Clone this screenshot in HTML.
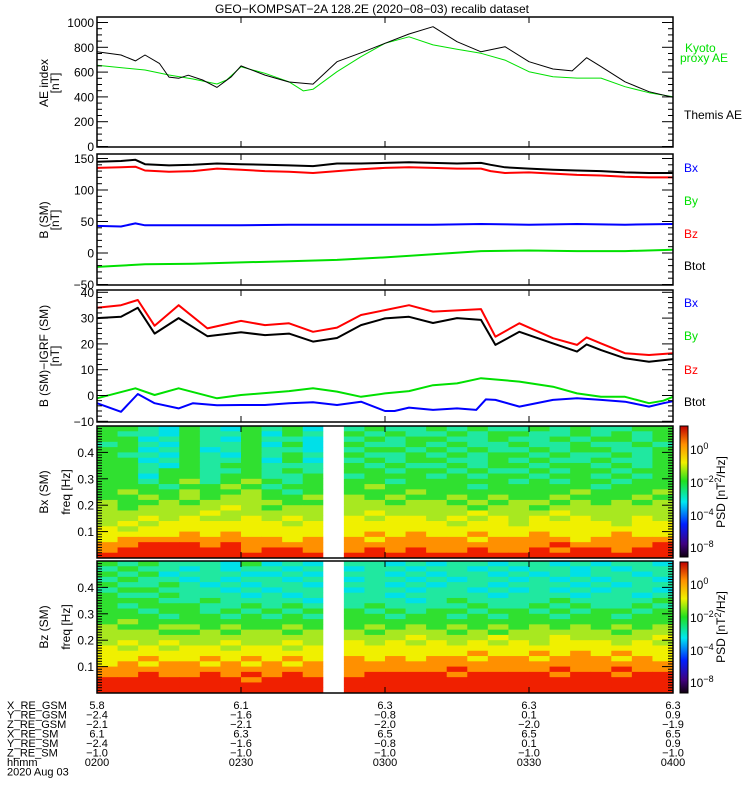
<!DOCTYPE html>
<html><head><meta charset="utf-8"><style>
body{margin:0;background:#fff;}
svg{display:block;font-family:"Liberation Sans",sans-serif;}
text{font-size:12px;fill:#000;}
#table text{font-size:11px;}
</style></head><body>
<svg id="chart" width="750" height="800" viewBox="0 0 750 800" xmlns="http://www.w3.org/2000/svg">
<defs>
<linearGradient id="cbg" x1="0" y1="1" x2="0" y2="0">
<stop offset="0" stop-color="#100010"/><stop offset="0.1" stop-color="#400080"/><stop offset="0.25" stop-color="#0020ff"/>
<stop offset="0.42" stop-color="#00e8f0"/><stop offset="0.58" stop-color="#20e020"/><stop offset="0.72" stop-color="#f0f000"/>
<stop offset="0.86" stop-color="#ff9000"/><stop offset="1" stop-color="#c00000"/>
</linearGradient>
</defs>
<text x="372" y="13" text-anchor="middle" font-size="13">GEO−KOMPSAT−2A 128.2E (2020−08−03) recalib dataset</text>
<g id="marks"></g>
<g id="axes"></g>
<g>
<text transform="translate(48,83) rotate(-90)" text-anchor="middle">AE index</text>
<text transform="translate(59,83) rotate(-90)" text-anchor="middle">[nT]</text>
<text transform="translate(48,220) rotate(-90)" text-anchor="middle">B (SM)</text>
<text transform="translate(59,220) rotate(-90)" text-anchor="middle">[nT]</text>
<text transform="translate(48,356) rotate(-90)" text-anchor="middle">B (SM)−IGRF (SM)</text>
<text transform="translate(59,356) rotate(-90)" text-anchor="middle">[nT]</text>
<text transform="translate(48,492) rotate(-90)" text-anchor="middle">Bx (SM)</text>
<text transform="translate(70,492) rotate(-90)" text-anchor="middle">freq [Hz]</text>
<text transform="translate(48,627) rotate(-90)" text-anchor="middle">Bz (SM)</text>
<text transform="translate(70,627) rotate(-90)" text-anchor="middle">freq [Hz]</text>
</g>
<g>
<text x="685" y="52" style="fill:#00e000">Kyoto</text>
<text x="680" y="62" style="fill:#00e000">proxy AE</text>
<text x="684" y="119">Themis AE</text>
<text x="684" y="172" style="fill:#0000ff">Bx</text>
<text x="684" y="205" style="fill:#00e000">By</text>
<text x="684" y="238" style="fill:#ff0000">Bz</text>
<text x="684" y="270">Btot</text>
<text x="684" y="307" style="fill:#0000ff">Bx</text>
<text x="684" y="340" style="fill:#00e000">By</text>
<text x="684" y="374" style="fill:#ff0000">Bz</text>
<text x="684" y="406">Btot</text>
</g>
<g>
<rect x="680" y="426" width="8" height="131" fill="url(#cbg)" stroke="#000"/>
<rect x="680" y="562" width="8" height="131" fill="url(#cbg)" stroke="#000"/>
<text x="690" y="454">10<tspan dy="-5" font-size="9">0</tspan></text>
<text x="690" y="487">10<tspan dy="-5" font-size="9">−2</tspan></text>
<text x="690" y="520">10<tspan dy="-5" font-size="9">−4</tspan></text>
<text x="690" y="552">10<tspan dy="-5" font-size="9">−8</tspan></text>
<text transform="translate(725,492) rotate(-90)" text-anchor="middle">PSD [nT<tspan dy="-4" font-size="9">2</tspan><tspan dy="4">/Hz]</tspan></text>
<text x="690" y="589">10<tspan dy="-5" font-size="9">0</tspan></text>
<text x="690" y="622">10<tspan dy="-5" font-size="9">−2</tspan></text>
<text x="690" y="655">10<tspan dy="-5" font-size="9">−4</tspan></text>
<text x="690" y="687">10<tspan dy="-5" font-size="9">−8</tspan></text>
<text transform="translate(725,627) rotate(-90)" text-anchor="middle">PSD [nT<tspan dy="-4" font-size="9">2</tspan><tspan dy="4">/Hz]</tspan></text>
</g>
<g id="table"></g>
</svg>
<script>
// ---------- data ----------
const aeThemisT = [0,5,8,10,13,15,17,19,22,25,28,30,35,40,45,50,55,60,65,70,75,80,85,90,95,99,102,105,110,115,120];
const aeThemisV = [764,738,690,738,670,560,550,575,536,477,563,650,576,520,503,684,756,832,907,966,845,764,805,684,625,610,716,644,522,442,397];
const aeKyotoT = [0,10,15,20,25,27,30,35,40,43,45,50,55,60,65,70,75,80,85,90,95,100,105,110,115,120];
const aeKyotoV = [655,617,577,544,504,536,643,590,522,448,461,603,724,832,885,819,784,752,697,603,563,552,552,482,434,402];

const bT = [0,5,8,10,15,20,25,30,35,40,45,50,55,60,65,70,75,80,82,85,90,95,100,105,110,115,120];
const bTot = [145,146,148,141,139,140,142,141,140,139,138,142,142,143,144,143,142,143,140,136,134,132,131,130,128,127,127];
const bZ   = [135,136,137,131,129,130,134,132,130,129,127,130,133,135,136,135,134,134,130,127,128,126,124,123,121,120,120];
const bXT  = [0,5,8,10,20,30,40,50,60,70,80,90,100,110,120];
const bX   = [43,42,47,44,44,44,45,45,45,45,46,45,46,45,46];
const bYT  = [0,10,20,30,40,50,60,70,80,90,100,110,120];
const bY   = [-22,-18,-17,-15,-13,-11,-7,-2,3,4,3,3,5];

const dT    = [0,5,8.5,12,17,23,30,35,40,45,50,55,60,65,70,75,80,83,88,95,100,102,105,110,115,120];
const dBtot = [30,30.5,34,24,30,23,24.5,23.4,24,20.9,22.3,27.3,29.9,30.5,28.1,30,29.3,19.6,24.7,20.2,17,19.8,17.6,14.4,13.1,14.1];
const dBz   = [34,35,37,27,35,26,28.9,27.3,28,24.7,26.3,31.2,33.1,35,32.5,33,33.5,22.8,28,22.2,19.6,22.5,20.2,16.4,15.7,16.4];
const dByT  = [0,8,12,17,25,30,40,45,50,55,60,65,70,75,80,88,95,100,105,110,115,118,120];
const dBy   = [-1.1,2.8,0.2,2.8,-1.1,0.2,1.7,2.8,1.5,-0.5,0.8,1.7,4,4.7,6.7,5.4,3.4,0.8,-0.5,-0.5,-3,-2,-0.5];
const dBxT  = [0,5,8.5,12,17,20,25,30,35,40,45,50,55,60,62,65,70,75,79,81,83,88,95,100,105,110,115,118,120];
const dBx   = [-3,-6.3,0.6,-3,-5,-3,-3.8,-3.7,-3.7,-3,-2.6,-3.7,-2.4,-6,-6,-4.7,-5.6,-5,-5.6,-1.5,-1.7,-4.3,-1.7,-1.1,-1.7,-2.4,-4.3,-3,-2.2];

// spectrogram levels (0..9), top row = 0.49 Hz, '.' = data gap
const specBx = [
"5543 5435 453. 4544 5454 4545 4455","5443 5445 354. 5454 4545 5445 4545","5534 5435 443. 4545 5445 4454 5545",
"4543 5445 353. 5445 4544 5445 4454","5534 5345 443. 4554 5454 4545 5445","5443 5435 454. 5445 4545 5454 4545",
"5534 5445 353. 4545 5445 4544 5445","5543 5455 444. 5454 4545 5455 4545","5545 5445 454. 5545 5454 4545 5455",
"5535 5455 445. 4555 4545 5455 4545","5545 6456 545. 5545 5555 4545 5455","5554 5565 455. 5655 5545 5555 4555",
"5655 6556 545. 5556 5555 5556 5556","5565 6566 556. 6565 5656 5565 5565","6556 5666 655. 6656 6565 6656 5656",
"6566 6676 566. 6666 6656 6566 6666","6666 6766 666. 6766 6676 6676 6666","6676 7667 676. 7677 6767 6767 6676",
"6767 7777 767. 7777 7677 6777 7677","7677 7777 777. 7777 7777 7777 7777","7777 8787 777. 7878 7787 7877 7877",
"7888 8888 878. 8788 8878 8887 8888","8899 9898 888. 8888 8888 8898 8889","8999 9998 998. 8989 8898 8989 9899",
"9999 9999 999. 9999 9999 9999 9999"];
const specBz = [
"5454 4435 343. 4434 3443 4434 3443","4544 3434 434. 3443 4434 3443 4344","5453 4443 343. 4434 3443 4343 4434",
"4544 3434 434. 3443 4344 3434 3443","5445 4343 443. 4434 3443 4443 4344","4554 4434 344. 3443 4434 3434 3443",
"5445 4443 434. 4434 4443 4443 4434","5554 4544 443. 4443 4544 4454 4445","5455 5445 454. 4544 4454 4545 4454",
"5545 5454 545. 5454 5545 5454 5545","5554 5545 454. 5545 5454 5545 5455","5655 5555 555. 5555 5555 5555 5555",
"6556 6565 565. 5656 5656 5656 5656","6665 5656 656. 6566 6565 6666 6566","6666 6666 666. 6667 6667 6676 6667",
"6767 6676 676. 7676 7676 7677 7676","7676 7767 767. 7777 7777 7777 7777","7777 7777 777. 7777 7787 7878 7877",
"7787 7878 787. 8787 8878 8788 8787","7878 8787 878. 8888 8888 8888 8888","8888 8888 888. 8888 8988 8898 8988",
"8898 8989 898. 8999 9899 9989 9899","9999 9998 999. 9999 9999 9999 9999","9999 9999 999. 9999 9999 9999 9999",
"9999 9999 999. 9999 9999 9999 9999"];

const tableRows = ["X_RE_GSM","Y_RE_GSM","Z_RE_GSM","X_RE_SM","Y_RE_SM","Z_RE_SM","hhmm"];
const tableVals = [
["5.8","6.1","6.3","6.3","6.3"],
["−2.4","−1.6","−0.8","0.1","0.9"],
["−2.1","−2.1","−2.0","−2.0","−1.9"],
["6.1","6.3","6.5","6.5","6.5"],
["−2.4","−1.6","−0.8","0.1","0.9"],
["−1.0","−1.0","−1.0","−1.0","−1.0"],
["0200","0230","0300","0330","0400"]];
const tableTimes = [0,30,60,90,120];

// ---------- scales ----------
const NS = "http://www.w3.org/2000/svg";
const X0 = 97, X1 = 673;
const xs = t => X0 + t * (X1 - X0) / 120;
const y1 = v => 146.5 - 0.124 * v;
const y2 = v => 253 - 0.63 * v;
const y3 = v => 395.5 - 2.58 * v;
const y4 = f => 558 - f * 264;
const y5 = f => 693 - f * 264;
const marks = document.getElementById('marks');
const axes = document.getElementById('axes');
function mk(tag, attrs, parent) {
  const e = document.createElementNS(NS, tag);
  for (const k in attrs) e.setAttribute(k, attrs[k]);
  parent.appendChild(e); return e;
}
function line(ts, vs, ys, color, w, name) {
  const pts = ts.map((t, i) => xs(t).toFixed(1) + ',' + ys(vs[i]).toFixed(1)).join(' ');
  const p = mk('polyline', {points: pts, fill: 'none', stroke: color, 'stroke-width': w, 'stroke-linejoin': 'round'}, marks);
  
  
}
const pal = ['#200020','#3000a0','#0030ff','#00e0e8','#20e8a0','#30e030','#a8e820','#f0f000','#ff9000','#f02000'];
function spec(rows, ys, name) {
  const g = mk('g', {}, marks);
  
  
  const nr = rows.length;
  rows.forEach((s, r) => {
    const cells = s.replace(/ /g, '');
    const nc = cells.length, cw = (X1 - X0) / nc;
    const fTop = 0.5 - r * 0.5 / nr, fBot = 0.5 - (r + 1) * 0.5 / nr;
    for (let c = 0; c < nc; c++) {
      const ch = cells[c];
      const rc = mk('rect', {x: (X0 + c * cw).toFixed(2), y: ys(fTop).toFixed(2), width: (cw + 0.4).toFixed(2), height: (ys(fBot) - ys(fTop) + 0.4).toFixed(2), fill: ch === '.' ? '#ffffff' : pal[+ch]}, g);
      
      
    }
  });
}
spec(specBx, y4, 'bx-spectrogram');
spec(specBz, y5, 'bz-spectrogram');

line(aeKyotoT, aeKyotoV, y1, '#00e000', 1, 'kyoto-ae-line');
line(aeThemisT, aeThemisV, y1, '#000000', 1, 'themis-ae-line');
line(bYT, bY, y2, '#00e000', 2, 'by-line');
line(bXT, bX, y2, '#0000ff', 2, 'bx-line');
line(bT, bZ, y2, '#ff0000', 2, 'bz-line');
line(bT, bTot, y2, '#000000', 2, 'btot-line');
line(dByT, dBy, y3, '#00e000', 2, 'dby-line');
line(dBxT, dBx, y3, '#0000ff', 2, 'dbx-line');
line(dT, dBz, y3, '#ff0000', 2, 'dbz-line');
line(dT, dBtot, y3, '#000000', 2, 'dbtot-line');

function panel(top, bot, ys, lo, hi, major, minor, fmt, name) {
  const g = mk('g', {}, axes);
  
  
  mk('rect', {x: X0, y: top, width: X1 - X0, height: bot - top, fill: 'none', stroke: '#000', 'stroke-width': 1.5}, g);
  const n = Math.round((hi - lo) / minor);
  for (let i = 0; i <= n; i++) {
    const v = lo + i * minor;
    const yy = ys(v);
    if (yy < top - 0.5 || yy > bot + 0.5) continue;
    const isMaj = Math.abs(v / major - Math.round(v / major)) < 1e-6;
    const L = isMaj ? 11 : 5;
    mk('line', {x1: X0, x2: X0 + L, y1: yy, y2: yy, stroke: '#000'}, g);
    mk('line', {x1: X1, x2: X1 - L, y1: yy, y2: yy, stroke: '#000'}, g);
    if (isMaj && fmt) {
      const t = mk('text', {x: X0 - 3, y: yy + 4.5, 'text-anchor': 'end'}, g);
      t.textContent = fmt(v);
      
      
    }
  }
  [30, 60, 90].forEach(tt => {
    mk('line', {x1: xs(tt), x2: xs(tt), y1: top, y2: top + 6, stroke: '#000'}, g);
    mk('line', {x1: xs(tt), x2: xs(tt), y1: bot, y2: bot - 6, stroke: '#000'}, g);
  });
}
const neg = v => (v < 0 ? '−' + Math.abs(v) : '' + v);
panel(17, 147, y1, 0, 1000, 200, 50, neg, 'ae-panel-axes');
panel(154, 285, y2, -50, 150, 50, 10, neg, 'bsm-panel-axes');
panel(290, 422, y3, -10, 40, 10, 2, neg, 'digrf-panel-axes');
const ff = v => (v === 0 || v > 0.45) ? '' : v.toFixed(1);
panel(426, 558, y4, 0, 0.5, 0.1, 0.01, ff, 'bx-spec-axes');
panel(561, 693, y5, 0, 0.5, 0.1, 0.01, ff, 'bz-spec-axes');

const tb = document.getElementById('table');
const rowY = [709, 718.5, 728, 737.5, 747, 756.5, 766];
tableRows.forEach((lab, r) => {
  const t = mk('text', {x: 7, y: rowY[r]}, tb);
  t.textContent = lab;
  
  
  tableVals[r].forEach((v, c) => {
    const tv = mk('text', {x: xs(tableTimes[c]), y: rowY[r], 'text-anchor': 'middle'}, tb);
    tv.textContent = v;
    
    
  });
});
const dt = mk('text', {x: 7, y: 775.5}, tb);
dt.textContent = '2020 Aug 03';


</script>
</body></html>
